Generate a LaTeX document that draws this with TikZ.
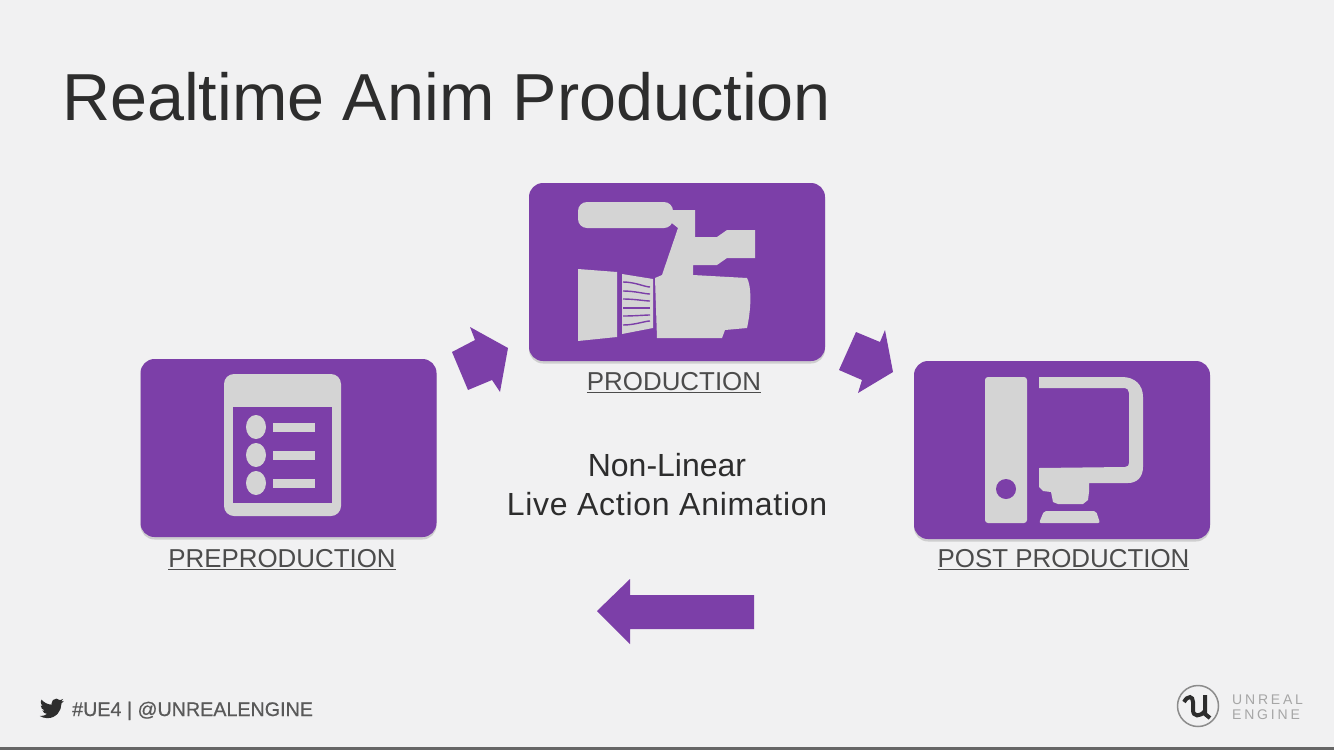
\documentclass[tikz,border=0pt]{standalone}
\usepackage{fontspec}
\setmainfont{Liberation Sans}
\newfontfamily\footfont[FakeBold=0.6]{Liberation Sans}
\newfontfamily\logofont[LetterSpace=20]{Liberation Sans}
\newfontfamily\widefont[LetterSpace=2.2]{Liberation Sans}
\definecolor{slidegray}{RGB}{241,241,242}
\definecolor{stagepurple}{RGB}{124,63,168}
\definecolor{icongray}{RGB}{212,212,212}
\definecolor{inkdark}{RGB}{45,45,45}
\usetikzlibrary{positioning,shadows}
\tikzset{
  stagebox/.style={fill=stagepurple, rounded corners=14pt, minimum width=296pt, minimum height=178pt, inner sep=0pt, drop shadow={shadow xshift=0pt, shadow yshift=-2.5pt, opacity=0.3}},
  stagelabel/.style={inner sep=0pt, text=inkdark!85, font=\fontsize{25.9}{26}\selectfont},
  flowarrow/.style={fill=stagepurple},
  iconfill/.style={fill=icongray},
}

\begin{document}
\begin{tikzpicture}[x=1pt,y=-1pt]
  \useasboundingbox (0,0) rectangle (1334,750);
  \fill[slidegray] (0,0) rectangle (1334,750);
  \fill[black!60] (0,747) rectangle (1334,750);

  \node[anchor=base west, inner sep=0pt, text=inkdark, font=\fontsize{66.5}{67}\selectfont] (title) at (62,120) {Realtime Anim Production};

  \node[stagebox] (production) at (677,272) {};
  \node[stagebox] (preprod) at (288.5,448) {};
  \node[stagebox] (post) at (1062,450) {};

  \node[stagelabel, below=11pt of production, xshift=-3pt] (productionl) {\underline{PRODUCTION}};
  \node[stagelabel, below=12pt of preprod, xshift=-6.5pt] (preprodl) {\underline{PREPRODUCTION}};
  \node[stagelabel, below=10pt of post, xshift=1.5pt] (postl) {\underline{POST PRODUCTION}};

  \node[align=center, inner sep=0pt, text=inkdark, font=\fontsize{32}{39}\selectfont] (nonlinear) at (667,485) {Non-Linear\\\widefont Live Action Animation};

  % arrows
  \fill[flowarrow] (470,327) -- (508,348) -- (500,392) -- (492,380) -- (468,390) -- (452,352) -- (475,340) -- cycle;
  \fill[flowarrow] (885,330) -- (893,372) -- (858,393) -- (862,380) -- (839,370) -- (856,332) -- (880,342) -- cycle;
  \fill[flowarrow] (597,611) -- (630,579) -- (630,595) -- (754,595) -- (754,629) -- (630,629) -- (630,644) -- cycle;

  % camera
  \fill[iconfill, rounded corners=9pt] (578,202) rectangle (673,228);
  \fill[iconfill] (668,210) -- (695,210) -- (695,237) -- (717,237) -- (727,230) -- (755,230) -- (755,258) -- (727,258) -- (717,265) -- (693,265) -- (693,275) -- (747,278) .. controls (751,285) and (752,305) .. (747,328) -- (725,330) -- (722,338) -- (657,338) -- (655,278) -- (662,275) -- (678,228) -- (668,220) -- cycle;
  \fill[iconfill] (578,269) -- (617,272) -- (617,337) -- (578,341) -- cycle;
  \fill[iconfill] (622,274) -- (653,279) -- (653,328) -- (622,334) -- cycle;
  \foreach \ya/\yb in {282/287, 291/294, 299/301, 308/308, 316/315, 325/321}
    \draw[stagepurple, line width=1.4pt] (623,\ya) .. controls (635,\ya) and (645,\yb) .. (650,\yb);

  % list
  \fill[iconfill, rounded corners=10pt] (224,374) rectangle (341,516);
  \fill[stagepurple] (233,407) rectangle (332,503);
  \foreach \y in {427,455,483} {
    \fill[iconfill] (256,\y) ellipse [x radius=10, y radius=12];
    \fill[iconfill] (273,\y-4.5) rectangle (315,\y+4.5);
  }

  % computer
  \fill[iconfill, rounded corners=3pt] (985,377) rectangle (1027,523);
  \fill[stagepurple] (1006,489) circle [radius=10];
  \fill[iconfill] (1039,377) -- (1122,377) .. controls (1135,377) and (1143,385) .. (1143,397) -- (1143,467) .. controls (1143,477) and (1137,483) .. (1128,483) -- (1089,483) -- (1089,492) -- (1088,500) -- (1083,504) -- (1058,504) -- (1053,502) -- (1051,492) -- (1043,491) -- (1039,487) -- (1039,468) -- (1125,467) .. controls (1128,467) and (1129,465) .. (1129,463) -- (1129,393) .. controls (1129,390) and (1127,388) .. (1125,388) -- (1039,388) -- cycle;
  \fill[iconfill, rounded corners=2pt] (1039,523) -- (1044,511) -- (1096,511) -- (1100,523) -- cycle;

  % footer
  \begin{scope}[shift={(38,694)}, x=1.15pt, y=-1.15pt]
    \fill[inkdark] (22.46,6) .. controls (21.69,6.35) and (20.86,6.58) .. (20,6.69)
      .. controls (20.88,6.16) and (21.56,5.32) .. (21.88,4.31)
      .. controls (21.05,4.81) and (20.13,5.16) .. (19.16,5.36)
      .. controls (18.37,4.5) and (17.26,4) .. (16,4)
      .. controls (13.65,4) and (11.73,5.92) .. (11.73,8.29)
      .. controls (11.73,8.63) and (11.77,8.96) .. (11.84,9.27)
      .. controls (8.28,9.09) and (5.11,7.38) .. (3,4.79)
      .. controls (2.63,5.42) and (2.42,6.16) .. (2.42,6.94)
      .. controls (2.42,8.43) and (3.17,9.75) .. (4.33,10.5)
      .. controls (3.62,10.5) and (2.96,10.3) .. (2.38,10) -- (2.38,10.03)
      .. controls (2.38,12.11) and (3.86,13.85) .. (5.82,14.24)
      .. controls (5.46,14.34) and (5.08,14.39) .. (4.69,14.39)
      .. controls (4.42,14.39) and (4.15,14.36) .. (3.89,14.31)
      .. controls (4.43,16) and (6,17.26) .. (7.89,17.29)
      .. controls (6.43,18.45) and (4.58,19.13) .. (2.56,19.13)
      .. controls (2.22,19.13) and (1.88,19.11) .. (1.54,19.07)
      .. controls (3.44,20.29) and (5.7,21) .. (8.12,21)
      .. controls (16,21) and (20.33,14.46) .. (20.33,8.79)
      .. controls (20.33,8.6) and (20.33,8.42) .. (20.32,8.23)
      .. controls (21.16,7.63) and (21.88,6.87) .. (22.46,6) -- cycle;
  \end{scope}
  \node[anchor=base west, inner sep=0pt, text=black!65, font=\footfont\fontsize{19.7}{20}\selectfont] (hashtag) at (72,716) {\#UE4 | @UNREALENGINE};

  \draw[black!45, line width=1.5pt] (1198,706) circle [radius=20.5];
  \draw[inkdark, line width=4pt] (1184,702) .. controls (1188,695) and (1193,696) .. (1193,702) -- (1193,710) .. controls (1193,717) and (1200,717) .. (1205,711);
  \draw[inkdark, line width=4pt] (1205,695) -- (1205,714) -- (1210,718);
  \node[anchor=west, align=left, inner sep=0pt, text=black!35, font=\logofont\fontsize{14}{14.5}\selectfont] (logotext) at (1232,707) {UNREAL\\ENGINE};
\end{tikzpicture}
\end{document}
